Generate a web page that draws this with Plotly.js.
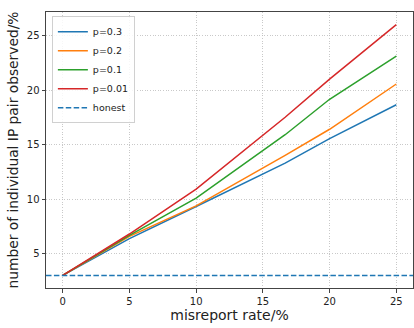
<!DOCTYPE html>
<html>
<head>
<meta charset="utf-8">
<script src="https://cdn.plot.ly/plotly-3.0.1.min.js"></script>
<style>html,body{margin:0;padding:0;background:#fff}#chart{width:414px;height:328px}</style>
</head>
<body>
<div id="chart"></div>
<script>
const misreportRate = [0, 5, 10, 16.67, 20, 25];
const p03 = [3.0, 6.37, 9.32, 13.3, 15.55, 18.65];
const p02 = [3.0, 6.58, 9.38, 14.0, 16.4, 20.55];
const p01 = [3.0, 6.67, 10.09, 15.9, 19.15, 23.1];
const p001 = [3.0, 6.80, 10.91, 17.5, 21.0, 26.0];
const honestValue = 3.0;
const seriesNames = ['p=0.3', 'p=0.2', 'p=0.1', 'p=0.01'];
const seriesColors = ['#1f77b4', '#ff7f0e', '#2ca02c', '#d62728'];
const xRange = [-1.25, 26.25];
const yRange = [1.85, 27.15];

const series = [p03, p02, p01, p001];
const traces = series.map((ys, i) => ({
  x: misreportRate, y: ys, type: 'scatter', mode: 'lines',
  name: seriesNames[i], line: {color: seriesColors[i], width: 1.5}
}));
traces.push({
  x: xRange, y: [honestValue, honestValue], type: 'scatter', mode: 'lines',
  name: 'honest', line: {color: '#1f77b4', width: 1.5, dash: '5.5px,2.4px'}
});

const axisCommon = {
  showline: true, mirror: true, linecolor: '#444', linewidth: 1,
  ticks: 'outside', ticklen: 3.5, tickwidth: 1, tickcolor: '#444',
  showgrid: true, gridcolor: '#bcbcbc', griddash: '1px,1.6px', gridwidth: 0.8,
  zeroline: false, tickfont: {family: 'DejaVu Sans', size: 10, color: '#222'}
};

const layout = {
  width: 414, height: 328,
  margin: {l: 46, r: 1, t: 12, b: 40},
  paper_bgcolor: '#fff', plot_bgcolor: '#fff',
  font: {family: 'DejaVu Sans', color: '#222'},
  xaxis: Object.assign({}, axisCommon, {
    range: xRange, tickvals: [0, 5, 10, 15, 20, 25],
    title: {text: 'misreport rate/%', font: {size: 14, color: '#222'}, standoff: 4}
  }),
  yaxis: Object.assign({}, axisCommon, {
    range: yRange, tickvals: [5, 10, 15, 20, 25],
    title: {text: 'number of individual IP pair observed/%', font: {size: 13.8, color: '#222'}, standoff: 4}
  }),
  legend: {
    x: 0.016, y: 0.985, xanchor: 'left', yanchor: 'top',
    bgcolor: 'rgba(255,255,255,0.85)', bordercolor: '#d0d0d0', borderwidth: 1,
    font: {family: 'DejaVu Sans', size: 9.5, color: '#222'},
    tracegroupgap: 0, itemwidth: 30
  },
  showlegend: true
};

Plotly.newPlot('chart', traces, layout, {displayModeBar: false, staticPlot: true});
</script>
</body>
</html>
